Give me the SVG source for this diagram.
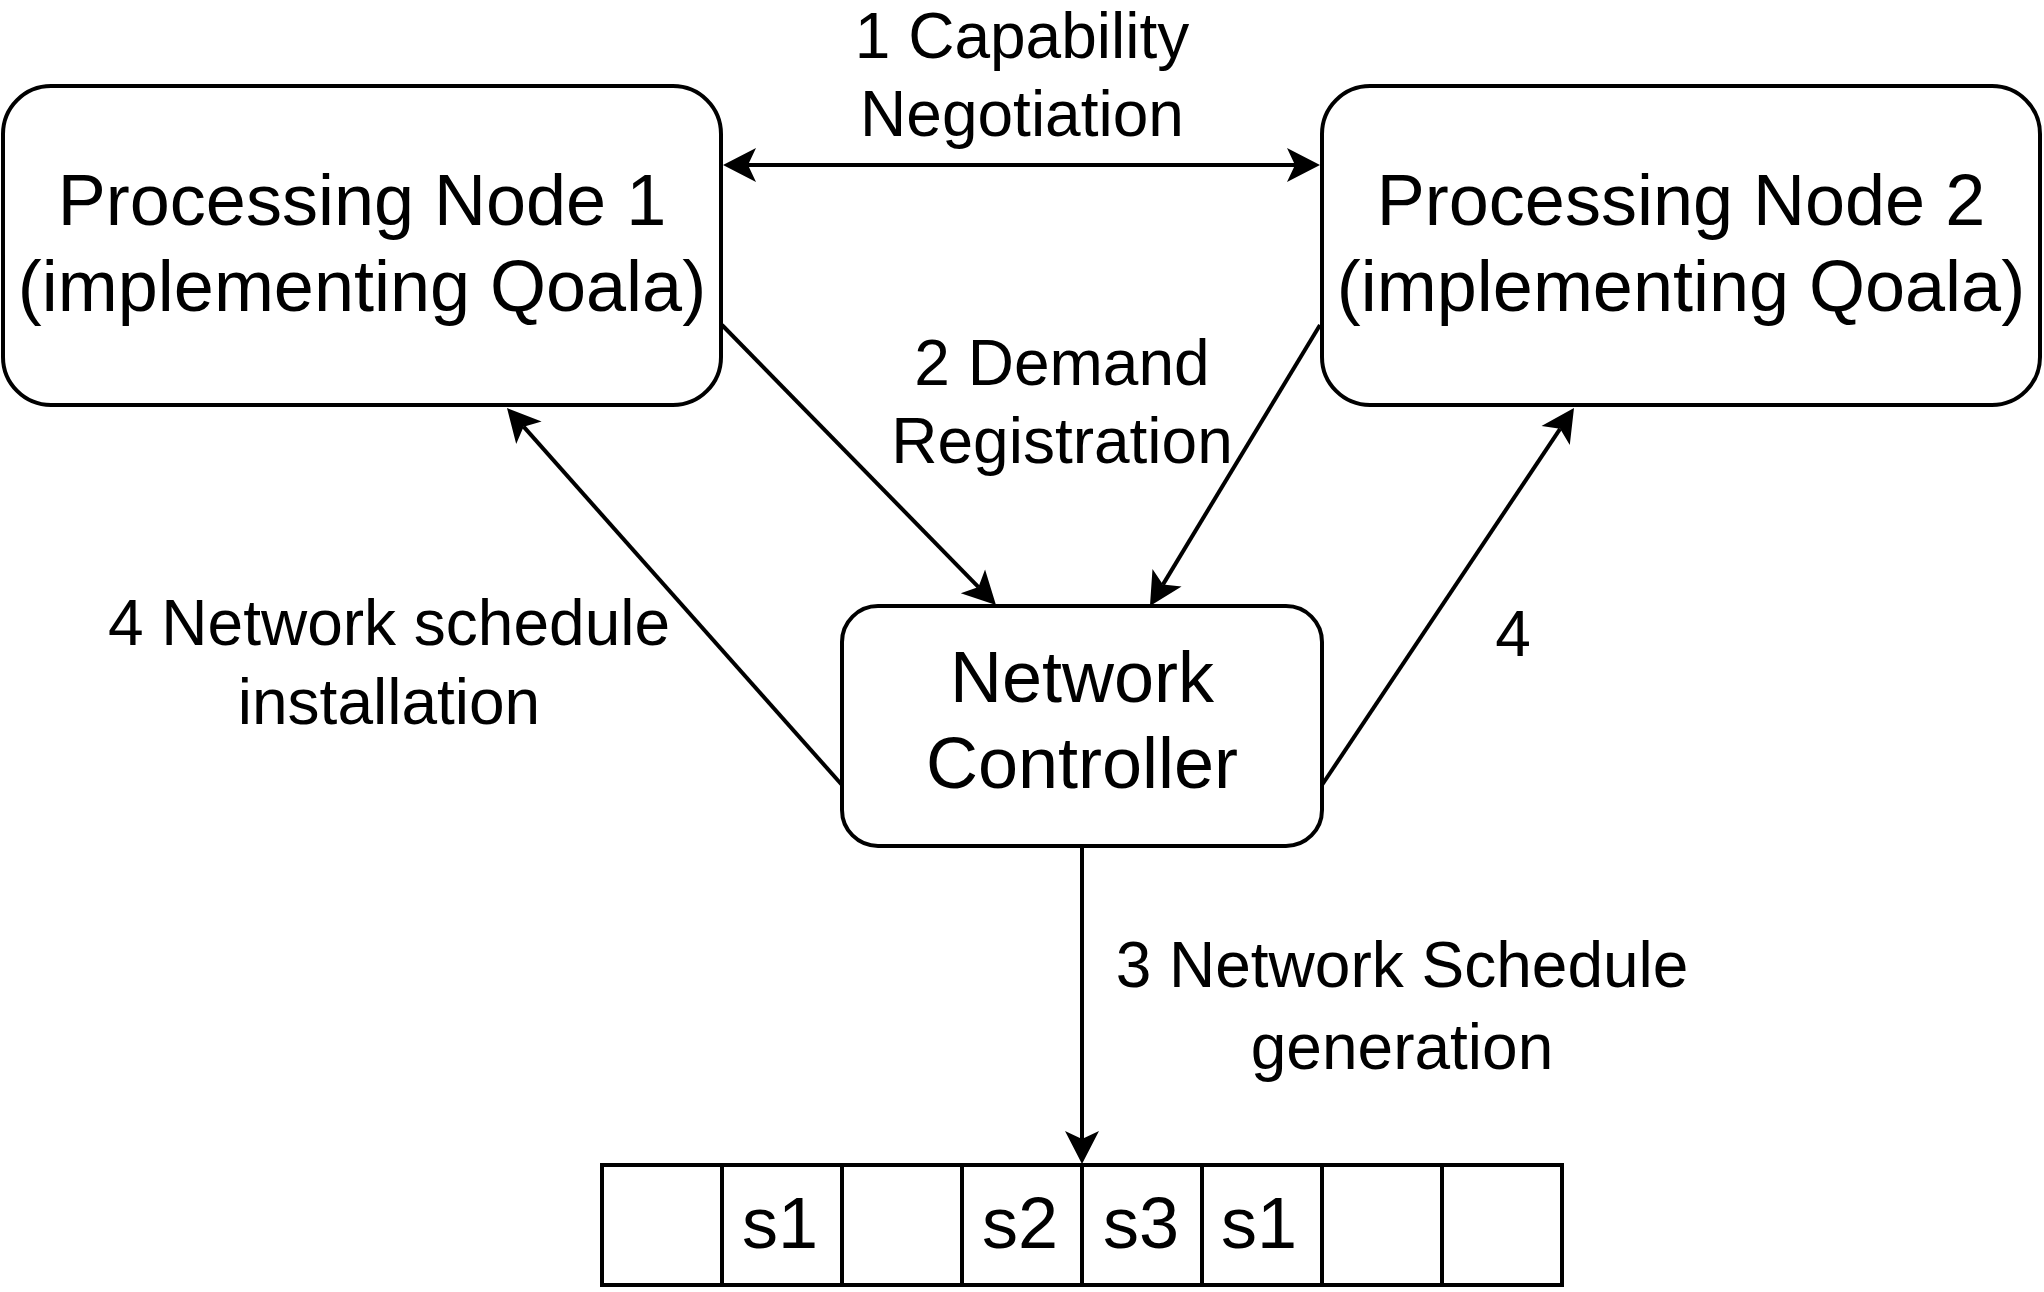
<svg xmlns="http://www.w3.org/2000/svg" width="2044" height="1292" viewBox="0 0 2044 1292">
  <style>
    .box { fill: #ffffff; stroke: #000000; stroke-width: 4; }
    .cell { fill: #ffffff; stroke: #000000; stroke-width: 4; }
    .big { font-family: "Liberation Sans", Arial, sans-serif; font-size: 72px; fill: #000000; text-anchor: middle; }
    .lbl { font-family: "Liberation Sans", Arial, sans-serif; font-size: 64px; fill: #000000; text-anchor: middle; }
    .edge { fill: none; stroke: #000000; stroke-width: 4; }
  </style>
  <defs>
    <marker id="arr" markerUnits="userSpaceOnUse" orient="auto-start-reverse" markerWidth="60" markerHeight="60" viewBox="-30 -30 60 60" refX="0" refY="0" overflow="visible">
      <path d="M25,0 L-8,-17 L0,0 L-8,17 Z" fill="#000000"/>
    </marker>
  </defs>
  <rect width="2044" height="1292" fill="#ffffff"/>

  <g id="node-pn1">
    <rect class="box" x="3" y="86" width="718" height="319" rx="48" ry="48"/>
    <text class="big" x="362" y="225">Processing Node 1</text>
    <text class="big" x="362" y="311">(implementing Qoala)</text>
  </g>

  <g id="node-pn2">
    <rect class="box" x="1322" y="86" width="718" height="319" rx="48" ry="48"/>
    <text class="big" x="1681" y="225">Processing Node 2</text>
    <text class="big" x="1681" y="311">(implementing Qoala)</text>
  </g>

  <g id="node-nc">
    <rect class="box" x="842" y="606" width="480" height="240" rx="36" ry="36"/>
    <text class="big" x="1082" y="702">Network</text>
    <text class="big" x="1082" y="788">Controller</text>
  </g>

  <g id="node-schedule">
    <rect class="cell" x="602" y="1165" width="120" height="120"/>
    <rect class="cell" x="722" y="1165" width="120" height="120"/>
    <rect class="cell" x="842" y="1165" width="120" height="120"/>
    <rect class="cell" x="962" y="1165" width="120" height="120"/>
    <rect class="cell" x="1082" y="1165" width="120" height="120"/>
    <rect class="cell" x="1202" y="1165" width="120" height="120"/>
    <rect class="cell" x="1322" y="1165" width="120" height="120"/>
    <rect class="cell" x="1442" y="1165" width="120" height="120"/>
    <text class="big" x="780" y="1248">s1</text>
    <text class="big" x="1020" y="1248">s2</text>
    <text class="big" x="1141" y="1248">s3</text>
    <text class="big" x="1259" y="1248">s1</text>
  </g>

  <g id="connectors">
    <line class="edge" x1="748" y1="165" x2="1295" y2="165" marker-start="url(#arr)" marker-end="url(#arr)"/>
    <line class="edge" x1="722" y1="325" x2="978.5" y2="587.1" marker-end="url(#arr)"/>
    <line class="edge" x1="1320" y1="325" x2="1162.9" y2="584.6" marker-end="url(#arr)"/>
    <line class="edge" x1="842" y1="785" x2="523.6" y2="426.7" marker-end="url(#arr)"/>
    <line class="edge" x1="1322" y1="785" x2="1560.1" y2="428.8" marker-end="url(#arr)"/>
    <line class="edge" x1="1082" y1="847" x2="1082" y2="1139" marker-end="url(#arr)"/>
  </g>

  <g id="labels">
    <text class="lbl" x="1022" y="58">1 Capability</text>
    <text class="lbl" x="1022" y="136">Negotiation</text>
    <text class="lbl" x="1062" y="385">2 Demand</text>
    <text class="lbl" x="1062" y="463">Registration</text>
    <text class="lbl" x="389" y="645">4 Network schedule</text>
    <text class="lbl" x="389" y="724">installation</text>
    <text class="lbl" x="1513" y="656">4</text>
    <text class="lbl" x="1402" y="987">3 Network Schedule</text>
    <text class="lbl" x="1402" y="1069">generation</text>
  </g>
</svg>
